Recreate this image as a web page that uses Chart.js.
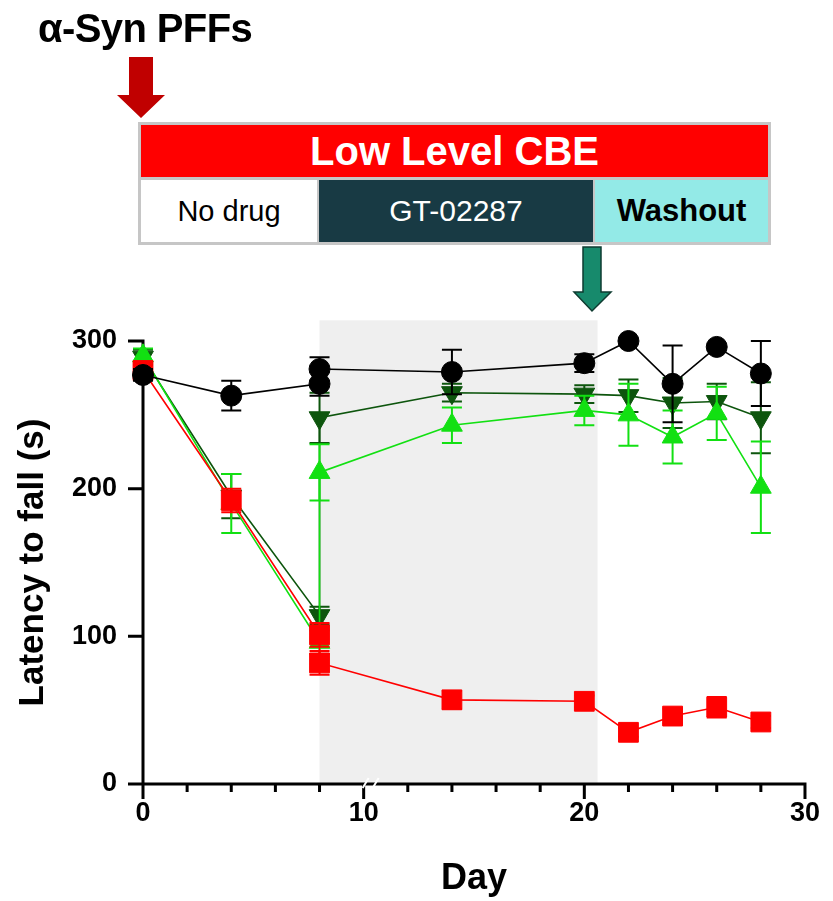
<!DOCTYPE html>
<html>
<head>
<meta charset="utf-8">
<script src="https://cdn.jsdelivr.net/npm/chart.js@4.4.1/dist/chart.umd.min.js"></script>
<style>
  html, body { margin: 0; padding: 0; background: #fff; }
  #wrap { position: relative; width: 833px; height: 901px; overflow: hidden;
          font-family: "Liberation Sans", Arial, sans-serif; }
  #chart { position: absolute; left: 0; top: 0; }
  #arrows { position: absolute; left: 0; top: 0; }
  #pff { position: absolute; left: 38px; top: 8px; font-size: 40px; font-weight: bold;
         line-height: 40px; letter-spacing: -0.6px; color: #000; white-space: nowrap; }
  #banner { position: absolute; left: 138px; top: 122px; width: 633px; height: 123px;
            box-sizing: border-box; border: 3px solid #c6c6c6; background: #c6c6c6; }
  #banner .top { height: 52px; background: #ff0000; color: #fff; font-weight: bold;
                 font-size: 40px; display: flex; align-items: center; justify-content: center;
                 margin-bottom: 3px; }
  #banner .bottom { display: flex; height: 62px; }
  #banner .cell { display: flex; align-items: center; justify-content: center; height: 62px; }
  .nodrug { width: 176px; background: #fff; color: #000; font-size: 29px; margin-right: 2px; }
  .gt { width: 274px; background: #183a44; color: #fff; font-size: 30px; margin-right: 2px; }
  .wash { width: 173px; background: #93eae7; color: #000; font-size: 31px; font-weight: bold; }
</style>
</head>
<body>
<div id="wrap">
  <canvas id="chart" width="833" height="901"></canvas>
  <svg id="arrows" width="833" height="320">
    <polygon points="129,57 153,57 153,95 165,95 141,118 117,95 129,95" fill="#c00000"/>
    <polygon points="583,247 601,247 601,292 611,292 592,311 574,292 583,292"
             fill="#178a6c" stroke="#0e3b30" stroke-width="1.5"/>
  </svg>
  <div id="pff">α-Syn PFFs</div>
  <div id="banner">
    <div class="top">Low Level CBE</div>
    <div class="bottom">
      <div class="cell nodrug">No drug</div>
      <div class="cell gt">GT-02287</div>
      <div class="cell wash">Washout</div>
    </div>
  </div>
</div>
<script>
(function () {
    'use strict';

    // test days (day 8 measured twice: before and after the drug started)
    var days = [0, 4, 8, 8, 14, 20, 22, 24, 26, 28];

    var noCbeMean = [277, 263, 271, 281, 279, 285, 300, 271, 296, 278];
    var noCbeSem = [4, 10, 8, 8, 15, 6, 0, 26, 0, 22];

    var cbeMean = [280, 192, 101, 82, 57, 56, 35, 46, 52, 42];
    var cbeSem = [6, 8, 8, 8, 6, 4, 3, 5, 7, 4];

    var gtHighMean = [289, 195, 114, 248, 265, 264, 263, 258, 259, 248];
    var gtHighSem = [5, 15, 6, 17, 6, 6, 11, 17, 12, 24];

    var gtLowMean = [290, 190, 96, 211, 243, 253, 250, 235, 251, 201];
    var gtLowSem = [5, 20, 8, 19, 12, 10, 21, 18, 18, 31];

    var xTicks = [0, 10, 20, 30];
    var yTicks = [0, 100, 200, 300];
    var drugWindow = [8, 20.6];
    var drugShadeTop = 314;

    function points(means) {
        return means.map(function (v, i) { return { x: days[i], y: v }; });
    }

    function series(label, means, sems, color, style, radius, rotation) {
        return {
            label: label,
            data: points(means),
            errors: sems,
            borderColor: color,
            backgroundColor: color,
            borderWidth: 1.6,
            pointStyle: style,
            pointRadius: radius,
            pointRotation: rotation || 0,
            pointBorderWidth: 1,
            pointBorderColor: color,
            pointBackgroundColor: color,
            tension: 0,
            clip: false
        };
    }

    var axesPlugin = {
        id: 'gpAxes',
        beforeDatasetsDraw: function (chart) {
            var ctx = chart.ctx;
            var xs = chart.scales.x, ys = chart.scales.y;
            var x0 = xs.getPixelForValue(0), y0 = ys.getPixelForValue(0);
            ctx.save();

            // drug treatment window
            var l = xs.getPixelForValue(drugWindow[0]);
            var r = xs.getPixelForValue(drugWindow[1]);
            var t = ys.getPixelForValue(drugShadeTop);
            ctx.fillStyle = '#efefef';
            ctx.fillRect(l, t, r - l, y0 - t);

            ctx.strokeStyle = '#000';
            ctx.lineWidth = 3;
            ctx.lineCap = 'butt';
            var major = 15, minor = 8;

            ctx.beginPath();
            ctx.moveTo(x0, ys.getPixelForValue(300) - 1.5);
            ctx.lineTo(x0, y0 + major);
            ctx.moveTo(x0 - major, y0);
            ctx.lineTo(xs.getPixelForValue(30) + 1.5, y0);
            yTicks.forEach(function (v) {
                var py = ys.getPixelForValue(v);
                ctx.moveTo(x0 - major, py);
                ctx.lineTo(x0, py);
            });
            for (var d = 0; d <= 30; d += 2) {
                var px = xs.getPixelForValue(d);
                var len = xTicks.indexOf(d) >= 0 ? major : minor;
                ctx.moveTo(px, y0);
                ctx.lineTo(px, y0 + len);
            }
            ctx.stroke();

            // axis break marks
            var bx = xs.getPixelForValue(10);
            ctx.strokeStyle = '#fff';
            ctx.lineWidth = 2;
            ctx.beginPath();
            ctx.moveTo(bx - 1, y0 + 4);
            ctx.lineTo(bx + 5, y0 - 6);
            ctx.moveTo(bx + 9, y0 + 4);
            ctx.lineTo(bx + 15, y0 - 6);
            ctx.stroke();
            ctx.restore();
        },
        beforeDatasetDraw: function (chart, args) {
            var ds = chart.data.datasets[args.index];
            var ctx = chart.ctx;
            var xs = chart.scales.x, ys = chart.scales.y;
            ctx.save();
            ctx.strokeStyle = ds.borderColor;
            ctx.lineWidth = 2;
            ctx.beginPath();
            ds.data.forEach(function (p, i) {
                var e = ds.errors[i];
                if (!e) return;
                var px = xs.getPixelForValue(p.x);
                var top = ys.getPixelForValue(p.y + e);
                var bot = ys.getPixelForValue(p.y - e);
                ctx.moveTo(px, top);
                ctx.lineTo(px, bot);
                ctx.moveTo(px - 10, top);
                ctx.lineTo(px + 10, top);
                ctx.moveTo(px - 10, bot);
                ctx.lineTo(px + 10, bot);
            });
            ctx.stroke();
            ctx.restore();
        }
    };

    Chart.defaults.font.family = '"Liberation Sans", Arial, sans-serif';
    Chart.defaults.color = '#000';

    new Chart(document.getElementById('chart'), {
        type: 'line',
        data: {
            datasets: [
                series('No CBE', noCbeMean, noCbeSem, '#000000', 'circle', 10.5),
                series('CBE', cbeMean, cbeSem, '#ff0000', 'rect', 14),
                series('CBE + GT-02287 (low)', gtLowMean, gtLowSem, '#12e012', 'triangle', 12),
                series('CBE + GT-02287 (high)', gtHighMean, gtHighSem, '#0d550d', 'triangle', 12, 180)
            ]
        },
        plugins: [axesPlugin],
        options: {
            responsive: false,
            animation: false,
            layout: { padding: { left: 0, right: 25, top: 341, bottom: 0 } },
            scales: {
                x: {
                    type: 'linear',
                    min: 0,
                    max: 30,
                    afterFit: function (scale) { scale.height = 117; },
                    grid: { display: false, drawTicks: false },
                    border: { display: false },
                    ticks: {
                        stepSize: 2,
                        autoSkip: false,
                        maxRotation: 0,
                        padding: 13,
                        font: { size: 27, weight: 'bold' },
                        callback: function (v) { return xTicks.indexOf(v) >= 0 ? String(v) : ''; }
                    },
                    title: {
                        display: true,
                        text: 'Day',
                        font: { size: 36, weight: 'bold' },
                        padding: { top: 0, bottom: 0 }
                    }
                },
                y: {
                    min: 0,
                    max: 300,
                    afterFit: function (scale) { scale.width = 143; },
                    grid: { display: false, drawTicks: false },
                    border: { display: false },
                    ticks: {
                        stepSize: 100,
                        padding: 26,
                        font: { size: 27, weight: 'bold' }
                    },
                    title: {
                        display: true,
                        text: 'Latency to fall (s)',
                        font: { size: 35, weight: 'bold' },
                        padding: { top: 12, bottom: 0 }
                    }
                }
            },
            plugins: {
                legend: { display: false },
                tooltip: { enabled: false }
            }
        }
    });
})();
</script>
</body>
</html>
